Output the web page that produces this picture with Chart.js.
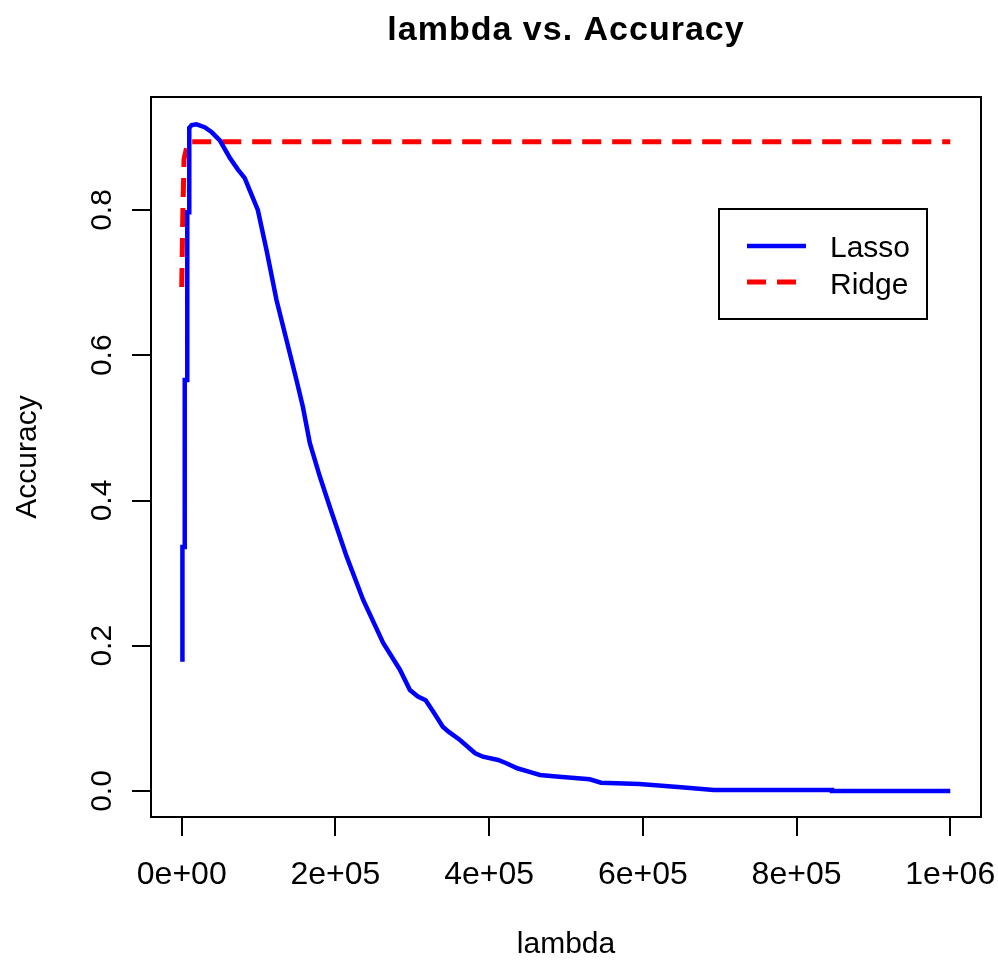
<!DOCTYPE html>
<html>
<head>
<meta charset="utf-8">
<script src="https://cdn.jsdelivr.net/npm/chart.js@4/dist/chart.umd.min.js"></script>
<style>
  html, body { margin: 0; padding: 0; background: #fff; }
  #wrap { width: 998px; height: 965px; }
</style>
</head>
<body>
<div id="wrap"><canvas id="accChart" width="998" height="965"></canvas></div>
<script>
// ===============================
// DATA
// ===============================
const lassoLambda = [900, 900, 3900, 3900, 7200, 7200, 9800, 9800, 13000, 19100, 29900, 39100,
  49500, 62500, 72900, 82000, 88500, 99000, 110300, 123300, 136300, 149300, 157600, 166700,
  179700, 192700, 214500, 236100, 262100, 283900, 296900, 307300, 317400, 327300, 339700,
  347100, 362000, 381900, 391900, 411700, 421600, 436600, 451400, 466100, 491100, 530800,
  545600, 595500, 649700, 692200, 846100, 846100, 1000000];
const lassoAcc = [0.178, 0.336, 0.336, 0.566, 0.566, 0.797, 0.797, 0.913, 0.917, 0.918, 0.914,
  0.907, 0.896, 0.872, 0.856, 0.844, 0.827, 0.800, 0.745, 0.676, 0.621, 0.566, 0.529, 0.479,
  0.433, 0.391, 0.323, 0.263, 0.204, 0.167, 0.139, 0.130, 0.125, 0.109, 0.0885, 0.0817,
  0.0702, 0.0519, 0.0472, 0.0427, 0.0386, 0.0313, 0.0266, 0.0220, 0.0197, 0.0161, 0.0114,
  0.0096, 0.0051, 0.0014, 0.0014, 0.0, 0.0];

const ridgeLambda = [0, 1500, 3000, 8000, 1000000];
const ridgeAcc = [0.694, 0.80, 0.87, 0.894, 0.894];

const xTickValues = [0, 200000, 400000, 600000, 800000, 1000000];
const xTickLabels = ['0e+00', '2e+05', '4e+05', '6e+05', '8e+05', '1e+06'];
const yTickValues = [0.0, 0.2, 0.4, 0.6, 0.8];
const yTickLabels = ['0.0', '0.2', '0.4', '0.6', '0.8'];

const FONT = "'Liberation Sans', Arial, sans-serif";

function toPoints(xs, ys) {
    return xs.map((x, i) => ({ x: x, y: ys[i] }));
}

// box, title and legend the way base R draws them
const rDecor = {
    id: 'rDecor',
    afterDraw(chart) {
        const { ctx, chartArea } = chart;
        ctx.save();
        ctx.strokeStyle = '#000';
        ctx.lineWidth = 2;
        ctx.strokeRect(chartArea.left, chartArea.top,
            chartArea.right - chartArea.left, chartArea.bottom - chartArea.top);

        // title
        ctx.fillStyle = '#000';
        ctx.font = 'bold 34px ' + FONT;
        ctx.textAlign = 'center';
        ctx.textBaseline = 'alphabetic';
        if ('letterSpacing' in ctx) ctx.letterSpacing = '1px';
        ctx.fillText('lambda vs. Accuracy', (chartArea.left + chartArea.right) / 2, 40);
        if ('letterSpacing' in ctx) ctx.letterSpacing = '0px';

        // legend
        const lx = 719, ly = 209, lw = 208, lh = 110;
        ctx.fillStyle = '#fff';
        ctx.fillRect(lx, ly, lw, lh);
        ctx.strokeRect(lx, ly, lw, lh);
        const lineRows = [246, 282];
        const textRows = [249, 286];
        chart.data.datasets.forEach((ds, i) => {
            ctx.beginPath();
            ctx.strokeStyle = ds.borderColor;
            ctx.lineWidth = ds.borderWidth;
            ctx.setLineDash(ds.borderDash || []);
            ctx.moveTo(747, lineRows[i]);
            ctx.lineTo(806, lineRows[i]);
            ctx.stroke();
            ctx.setLineDash([]);
            ctx.fillStyle = '#000';
            ctx.font = '30px ' + FONT;
            ctx.textAlign = 'left';
            ctx.textBaseline = 'middle';
            ctx.fillText(ds.label, 830, textRows[i]);
        });
        ctx.restore();
    }
};

const ctx = document.getElementById('accChart').getContext('2d');
const accChart = new Chart(ctx, {
    type: 'line',
    data: {
        datasets: [
            {
                label: 'Lasso',
                data: toPoints(lassoLambda, lassoAcc),
                borderColor: '#0000ff',
                borderWidth: 4.5,
                pointRadius: 0,
                tension: 0,
                fill: false
            },
            {
                label: 'Ridge',
                data: toPoints(ridgeLambda, ridgeAcc),
                borderColor: '#ff0000',
                borderWidth: 5,
                borderDash: [19, 11],
                pointRadius: 0,
                tension: 0,
                fill: false
            }
        ]
    },
    options: {
        responsive: false,
        animation: false,
        events: [],
        layout: { padding: { top: 97, right: 17, left: 0, bottom: 0 } },
        plugins: {
            legend: { display: false },
            title: { display: false },
            tooltip: { enabled: false }
        },
        scales: {
            x: {
                type: 'linear',
                min: -40000,
                max: 1040000,
                afterBuildTicks: s => { s.ticks = xTickValues.map(v => ({ value: v })); },
                afterFit: s => { s.height = 148; s.paddingLeft = 0; s.paddingRight = 0; },
                grid: { drawOnChartArea: false, drawTicks: true, tickLength: 19, color: '#000', lineWidth: 2 },
                border: { display: false },
                ticks: {
                    color: '#000',
                    font: { family: FONT, size: 32 },
                    padding: 20,
                    maxRotation: 0,
                    minRotation: 0,
                    autoSkip: false,
                    callback: (v, i) => xTickLabels[i]
                },
                title: {
                    display: true,
                    text: 'lambda',
                    color: '#000',
                    font: { family: FONT, size: 30 },
                    padding: { top: 0, bottom: 2 }
                }
            },
            y: {
                type: 'linear',
                min: -0.0358,
                max: 0.9556,
                afterBuildTicks: s => { s.ticks = yTickValues.map(v => ({ value: v })); },
                afterFit: s => { s.width = 151; s.paddingTop = 0; s.paddingBottom = 0; },
                grid: { drawOnChartArea: false, drawTicks: true, tickLength: 19, color: '#000', lineWidth: 2 },
                border: { display: false },
                ticks: {
                    color: '#000',
                    font: { family: FONT, size: 30 },
                    padding: 8,
                    minRotation: 90,
                    maxRotation: 90,
                    crossAlign: 'center',
                    autoSkip: false,
                    callback: (v, i) => yTickLabels[i]
                },
                title: {
                    display: true,
                    text: 'Accuracy',
                    color: '#000',
                    font: { family: FONT, size: 30 },
                    padding: { top: 10, bottom: 0 }
                }
            }
        }
    },
    plugins: [rDecor]
});
</script>
</body>
</html>
